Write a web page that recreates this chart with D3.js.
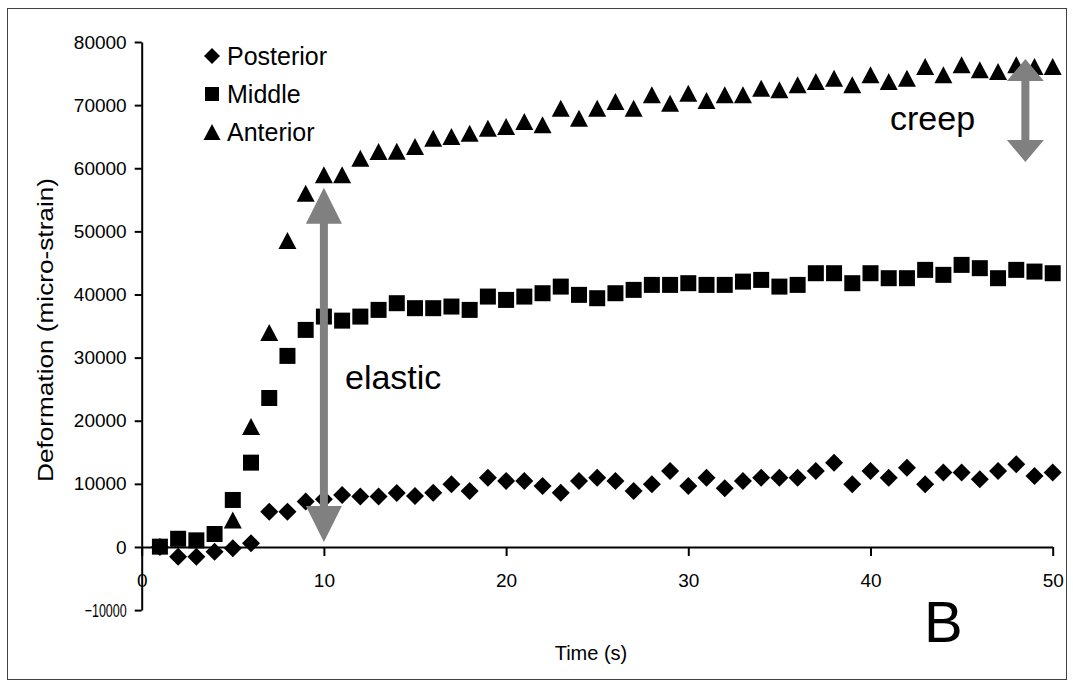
<!DOCTYPE html>
<html lang="en">
<head>
	<meta charset="UTF-8">
	<title>Deformation over time</title>
	<script src="https://cdn.jsdelivr.net/npm/d3@7"></script>
	<style>
	body {
		margin: 0;
		background-color: #ffffff;
		font-family: "Liberation Sans", Arial, sans-serif;
	}
	.axis path, .axis line {
		stroke: #000;
		stroke-width: 2px;
	}
	.axis text {
		font-family: "Liberation Sans", Arial, sans-serif;
		font-size: 19px;
		fill: #000;
	}
	</style>
</head>
<body>
<div id="chart"></div>
<script>
	// time in seconds
	var times = [1, 2, 3, 4, 5, 6, 7, 8, 9, 10, 11, 12, 13, 14, 15, 16, 17, 18, 19, 20,
		21, 22, 23, 24, 25, 26, 27, 28, 29, 30, 31, 32, 33, 34, 35, 36, 37, 38, 39, 40,
		41, 42, 43, 44, 45, 46, 47, 48, 49, 50];

	// deformation, micro-strain
	var posterior = [0, -1540, -1540, -740, -210, 600, 5600, 5600, 7200, 7550,
		8240, 8000, 8000, 8550, 8080, 8600, 9930, 8870, 10980, 10460,
		10460, 9670, 8600, 10460, 10980, 10460, 8870, 9930, 12040, 9670,
		10980, 9300, 10460, 10980, 10980, 10980, 12040, 13360, 9930, 12040,
		10980, 12570, 9930, 11780, 11780, 10720, 12040, 13100, 11250, 11780];

	var middle = [50, 1300, 1050, 2060, 7450, 13360, 23600, 30270, 34390, 36500,
		35860, 36500, 37560, 38620, 37830, 37830, 38090, 37560, 39670, 39140,
		39670, 40200, 41250, 39940, 39410, 40200, 40730, 41520, 41520, 41790,
		41520, 41520, 42040, 42310, 41250, 41520, 43370, 43370, 41790, 43370,
		42580, 42580, 43900, 43110, 44690, 44170, 42580, 43900, 43630, 43370];

	var anterior = [null, null, null, null, 4280, 19070, 33960, 48540, 56050, 58950,
		58950, 61600, 62650, 62700, 63440, 64760, 65030, 65560, 66350, 66610,
		67400, 66880, 69520, 67940, 69520, 70570, 69520, 71630, 70310, 71890,
		70730, 71630, 71630, 72690, 72420, 73210, 73740, 74270, 73210, 74800,
		73740, 74270, 76120, 74800, 76390, 75590, 75330, 76390, 76120, 76120];

	var seriesNames = ['Posterior', 'Middle', 'Anterior'];
	var xTicks = [0, 10, 20, 30, 40, 50];
	var yTicks = [-10000, 0, 10000, 20000, 30000, 40000, 50000, 60000, 70000, 80000];

	// annotation arrows (time, low value, high value)
	var elasticArrow = [10, 800, 56900];
	var creepArrow = [48.5, 61000, 77300];

	var width = 1073, height = 685;

	var svg = d3.select('#chart')
		.append('svg')
		.attr('width', width)
		.attr('height', height);

	// outer frame
	svg.append('rect')
		.attr('x', 7.5)
		.attr('y', 8.5)
		.attr('width', 1059)
		.attr('height', 671)
		.style('fill', 'none')
		.style('stroke', '#404040')
		.style('stroke-width', 1);

	var x = d3.scaleLinear()
		.domain([0, 50])
		.range([141.7, 1052.7]);

	var y = d3.scaleLinear()
		.domain([-10000, 80000])
		.range([610.1, 42]);

	// y axis
	var gy = svg.append('g')
		.attr('class', 'axis')
		.attr('transform', 'translate(' + x(0) + ',0)')
		.call(d3.axisLeft(y).tickValues(yTicks).tickFormat(d3.format('d'))
			.tickSize(7).tickPadding(8).tickSizeOuter(0));

	gy.selectAll('.tick text')
		.filter(function (d) { return d === -10000; })
		.attr('textLength', 42)
		.attr('lengthAdjust', 'spacingAndGlyphs');

	// x axis sits on zero
	var gx = svg.append('g')
		.attr('class', 'axis')
		.attr('transform', 'translate(0,' + y(0) + ')')
		.call(d3.axisBottom(x).tickValues(xTicks).tickFormat(d3.format('d'))
			.tickSize(9).tickPadding(24).tickSizeOuter(0));

	gx.selectAll('.tick text').attr('dy', '0.35em');

	// marker shapes
	function diamond(s) {
		var h = s / 2;
		return 'M0,' + (-h) + 'L' + h + ',0L0,' + h + 'L' + (-h) + ',0Z';
	}
	function square(s) {
		var h = s / 2;
		return 'M' + (-h) + ',' + (-h) + 'h' + s + 'v' + s + 'h' + (-s) + 'Z';
	}
	function triangle(s) {
		var h = s / 2;
		return 'M0,' + (-h) + 'L' + (h + 0.5) + ',' + h + 'L' + (-h - 0.5) + ',' + h + 'Z';
	}

	var series = [
		{ name: 'Posterior', values: posterior, shape: diamond(18) },
		{ name: 'Middle', values: middle, shape: square(16) },
		{ name: 'Anterior', values: anterior, shape: triangle(17) }
	];

	series.forEach(function (s) {
		var pts = [];
		times.forEach(function (t, i) {
			if (s.values[i] !== null) pts.push({ t: t, v: s.values[i] });
		});
		svg.append('g')
			.selectAll('path')
			.data(pts)
			.enter().append('path')
			.attr('d', s.shape)
			.attr('transform', function (d) {
				return 'translate(' + x(d.t) + ',' + y(d.v) + ')';
			})
			.style('fill', '#000');
	});

	// legend
	var legendShapes = [diamond(16), square(14), triangle(16)];
	var legend = svg.append('g')
		.selectAll('g')
		.data(seriesNames)
		.enter().append('g')
		.attr('transform', function (d, i) {
			return 'translate(212,' + (56 + i * 38) + ')';
		});

	legend.append('path')
		.attr('d', function (d, i) { return legendShapes[i]; })
		.style('fill', '#000');

	legend.append('text')
		.attr('x', 15)
		.attr('y', 9)
		.style('font-size', '25px')
		.style('fill', '#000')
		.text(function (d) { return d; });

	// double-headed arrows
	function arrow(a, headLen, headW, shaftW) {
		var cx = x(a[0]), y1 = y(a[2]), y2 = y(a[1]);
		var hw = headW / 2, sw = shaftW / 2;
		return 'M' + cx + ',' + y1 +
			'L' + (cx + hw) + ',' + (y1 + headLen) +
			'L' + (cx + sw) + ',' + (y1 + headLen) +
			'L' + (cx + sw) + ',' + (y2 - headLen) +
			'L' + (cx + hw) + ',' + (y2 - headLen) +
			'L' + cx + ',' + y2 +
			'L' + (cx - hw) + ',' + (y2 - headLen) +
			'L' + (cx - sw) + ',' + (y2 - headLen) +
			'L' + (cx - sw) + ',' + (y1 + headLen) +
			'L' + (cx - hw) + ',' + (y1 + headLen) + 'Z';
	}

	svg.append('path')
		.attr('d', arrow(elasticArrow, 36, 36, 8))
		.style('fill', '#808080');

	svg.append('path')
		.attr('d', arrow(creepArrow, 22, 37, 8))
		.style('fill', '#808080');

	// annotations
	svg.append('text')
		.attr('x', 345)
		.attr('y', 389)
		.style('font-size', '34px')
		.text('elastic');

	svg.append('text')
		.attr('x', 890)
		.attr('y', 130)
		.style('font-size', '34px')
		.text('creep');

	svg.append('text')
		.attr('x', 924)
		.attr('y', 642)
		.style('font-size', '58px')
		.text('B');

	// axis titles
	svg.append('text')
		.attr('x', 591)
		.attr('y', 660)
		.style('text-anchor', 'middle')
		.style('font-size', '20px')
		.text('Time (s)');

	svg.append('text')
		.attr('transform', 'translate(45,330) rotate(-90)')
		.attr('dy', '0.35em')
		.style('text-anchor', 'middle')
		.style('font-size', '22px')
		.attr('textLength', 304)
		.attr('lengthAdjust', 'spacingAndGlyphs')
		.text('Deformation (micro-strain)');
</script>
</body>
</html>
